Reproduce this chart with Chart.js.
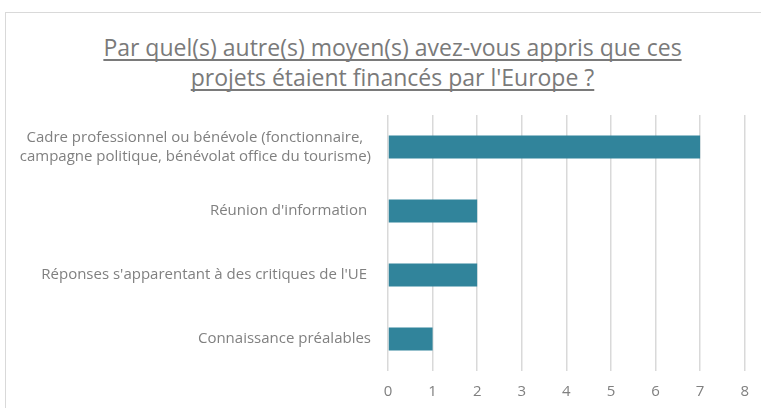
<!DOCTYPE html>
<html lang="fr">
<head>
<meta charset="utf-8">
<script src="https://cdn.jsdelivr.net/npm/chart.js@4/dist/chart.umd.min.js"></script>
<style>
  body { margin: 0; background: #fff; width: 761px; height: 408px; overflow: hidden; position: relative; }
  .frame { position: absolute; left: 5px; top: 12px; width: 820px; height: 420px; border: 1px solid #d9d9d9; }
  .title {
    position: absolute; left: 0; top: 32px; width: 785px;
    text-align: center; font: 23px "Open Sans", sans-serif; line-height: 30px;
    color: #7a7a7a; text-decoration: underline; text-underline-offset: 3px;
    text-decoration-skip-ink: none;
  }
  canvas { position: absolute; left: 0; top: 0; }
</style>
</head>
<body>
<div class="frame"></div>
<div class="title">Par quel(s) autre(s) moyen(s) avez-vous appris que ces<br>projets étaient financés par l'Europe ?</div>
<canvas id="chart" width="761" height="408"></canvas>
<script>
const categories = [
  ["Cadre professionnel ou bénévole (fonctionnaire,  ", "campagne politique, bénévolat office du tourisme)"],
  "Réunion d'information ",
  "Réponses s'apparentant à des critiques de l'UE ",
  "Connaissance préalables",
];
const counts = [7, 2, 2, 1];
const axisMin = 0;
const axisMax = 8;

const gray = "#808080";
const gridGray = "#d9d9d9";

new Chart(document.getElementById("chart"), {
  type: "bar",
  data: {
    labels: categories,
    datasets: [
      {
        data: counts,
        backgroundColor: "#31849b",
        borderWidth: 0,
        categoryPercentage: 1,
        barPercentage: 0.36,
      },
    ],
  },
  options: {
    indexAxis: "y",
    responsive: false,
    animation: false,
    devicePixelRatio: 1,
    layout: { padding: { top: 115, right: 11, bottom: 0, left: 0 } },
    plugins: {
      legend: { display: false },
      tooltip: { enabled: false },
    },
    scales: {
      x: {
        min: axisMin,
        max: axisMax,
        ticks: {
          stepSize: 1,
          color: gray,
          padding: 12,
          font: { family: "'Open Sans', sans-serif", size: 15 },
        },
        grid: { color: gridGray, lineWidth: 1.5, drawTicks: false },
        border: { display: false },
        afterFit: (scale) => { scale.height = 37; },
      },
      y: {
        ticks: {
          color: gray,
          padding: 17,
          font: { family: "'Open Sans', sans-serif", size: 15, lineHeight: 1.27 },
        },
        grid: { display: false, drawTicks: false },
        border: { display: false },
        afterFit: (scale) => { scale.width = 388; },
      },
    },
  },
});
</script>
</body>
</html>
